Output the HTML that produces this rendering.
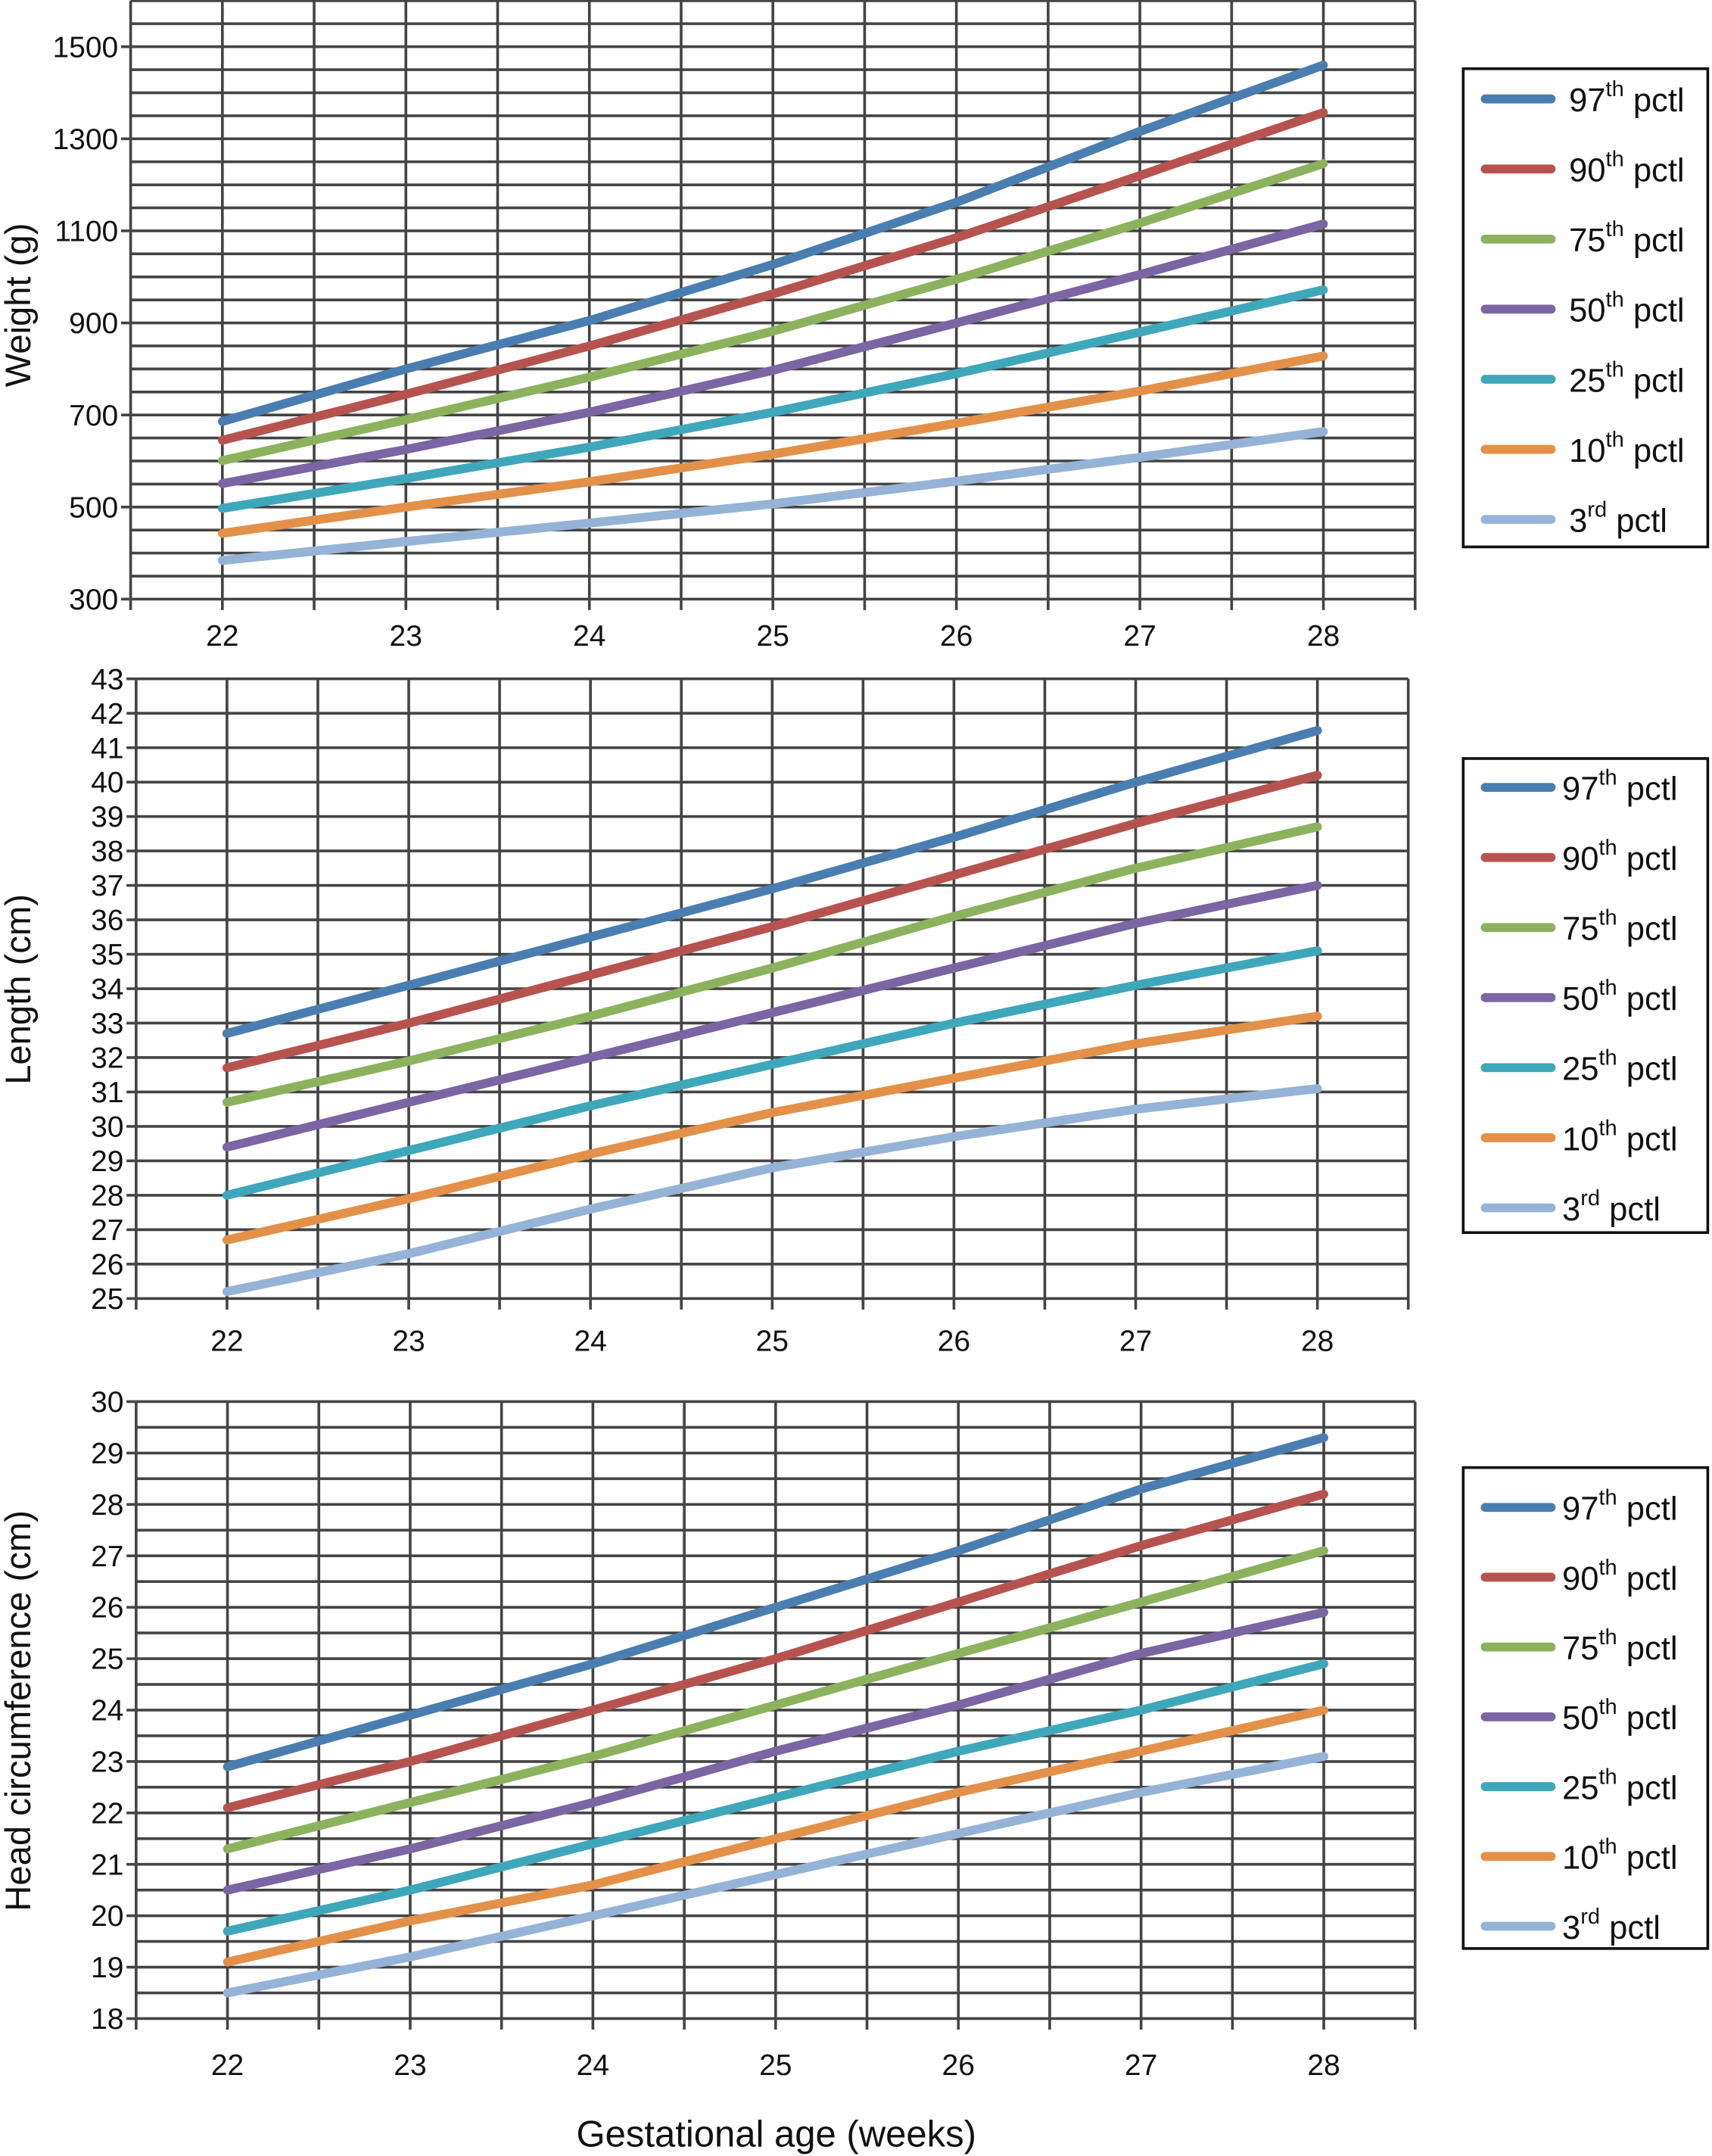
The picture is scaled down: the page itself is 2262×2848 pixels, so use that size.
<!DOCTYPE html>
<html><head><meta charset="utf-8"><style>
html,body{margin:0;padding:0;background:#fff}
svg{display:block}
text{font-family:"Liberation Sans",Arial,sans-serif;fill:#111}
</style></head>
<body>
<svg id="chart" width="2262" height="2848" viewBox="0 0 1246 1569" xmlns="http://www.w3.org/2000/svg"></svg>
<script>
const weeks = [22, 23, 24, 25, 26, 27, 28];
const seriesNames = ["97th", "90th", "75th", "50th", "25th", "10th", "3rd"];
const colors = ["#4a7eb1", "#b7534f", "#8db25e", "#7b65a2", "#3fa7ba", "#e39049", "#94b3d6"];

const weightP97 = [686, 800, 905, 1027, 1162, 1316, 1460];
const weightP90 = [645, 745, 850, 963, 1085, 1220, 1357];
const weightP75 = [601, 690, 782, 882, 995, 1117, 1246];
const weightP50 = [551, 625, 706, 797, 900, 1005, 1115];
const weightP25 = [497, 562, 630, 706, 790, 880, 972];
const weightP10 = [443, 500, 555, 615, 682, 752, 828];
const weightP3 = [384, 425, 465, 507, 556, 608, 664];

const lengthP97 = [32.7, 34.1, 35.5, 36.9, 38.4, 40.0, 41.5];
const lengthP90 = [31.7, 33.0, 34.4, 35.8, 37.3, 38.8, 40.2];
const lengthP75 = [30.7, 31.9, 33.2, 34.6, 36.1, 37.5, 38.7];
const lengthP50 = [29.4, 30.7, 32.0, 33.3, 34.6, 35.9, 37.0];
const lengthP25 = [28.0, 29.3, 30.6, 31.8, 33.0, 34.1, 35.1];
const lengthP10 = [26.7, 27.9, 29.2, 30.4, 31.4, 32.4, 33.2];
const lengthP3 = [25.2, 26.3, 27.6, 28.8, 29.7, 30.5, 31.1];

const headP97 = [22.9, 23.9, 24.9, 26.0, 27.1, 28.3, 29.3];
const headP90 = [22.1, 23.0, 24.0, 25.0, 26.1, 27.2, 28.2];
const headP75 = [21.3, 22.2, 23.1, 24.1, 25.1, 26.1, 27.1];
const headP50 = [20.5, 21.3, 22.2, 23.2, 24.1, 25.1, 25.9];
const headP25 = [19.7, 20.5, 21.4, 22.3, 23.2, 24.0, 24.9];
const headP10 = [19.1, 19.9, 20.6, 21.5, 22.4, 23.2, 24.0];
const headP3 = [18.5, 19.2, 20.0, 20.8, 21.6, 22.4, 23.1];

const weightTicks = [300, 500, 700, 900, 1100, 1300, 1500];
const lengthTicks = [25,26,27,28,29,30,31,32,33,34,35,36,37,38,39,40,41,42,43];
const headTicks = [18,19,20,21,22,23,24,25,26,27,28,29,30];

const NS = "http://www.w3.org/2000/svg";
const svg = document.getElementById("chart");
function mk(tag, attrs, parent) {
  const e = document.createElementNS(NS, tag);
  for (const k in attrs) e.setAttribute(k, attrs[k]);
  (parent || svg).appendChild(e);
  return e;
}

function panel(cfg) {
  const g = mk("g", {});
  
  
  const xs = v => cfg.left + (v - 21.5) / 7 * (cfg.right - cfg.left);
  const ys = v => cfg.bottom - (v - cfg.ymin) / (cfg.ymax - cfg.ymin) * (cfg.bottom - cfg.top);
  const grid = mk("g", {stroke: "#444", "stroke-width": 2}, g);
  
  
  for (let v = cfg.ymin; v <= cfg.ymax + 1e-9; v += cfg.gridStep) {
    mk("line", {x1: cfg.left, x2: cfg.right, y1: ys(v), y2: ys(v)}, grid);
  }
  for (let w = 21.5; w <= 28.51; w += 0.5) {
    mk("line", {x1: xs(w), x2: xs(w), y1: cfg.top, y2: cfg.bottom + 8}, grid);
  }
  const yax = mk("g", {}, g);
  
  
  cfg.ticks.forEach(t => {
    mk("line", {x1: cfg.left - 7, x2: cfg.left, y1: ys(t), y2: ys(t), stroke: "#444", "stroke-width": 2}, yax);
    const tx = mk("text", {x: cfg.left - 9, y: ys(t) + 7.5, "text-anchor": "end", "font-size": 21.5}, yax);
    tx.textContent = t;
  });
  const xax = mk("g", {}, g);
  
  
  weeks.forEach(w => {
    const tx = mk("text", {x: xs(w), y: cfg.xLabelY, "text-anchor": "middle", "font-size": 21.5}, xax);
    tx.textContent = w;
  });
  const yt = mk("text", {transform: `translate(${cfg.titleX},${cfg.titleY}) rotate(-90)`, "text-anchor": "middle", "font-size": 26}, g);
  
  
  yt.textContent = cfg.title;
  cfg.series.forEach((arr, i) => {
    const d = arr.map((v, j) => (j ? "L" : "M") + xs(weeks[j]).toFixed(1) + "," + ys(v).toFixed(1)).join(" ");
    const p = mk("path", {d: d, fill: "none", stroke: colors[i], "stroke-width": 6.5, "stroke-linecap": "round", "stroke-linejoin": "round"}, g);
    
    
  });
  const lg = mk("g", {}, g);
  
  
  mk("rect", {x: cfg.lgX, y: cfg.lgY, width: 178, height: cfg.lgH, fill: "#fff", stroke: "#111", "stroke-width": 2}, lg);
  seriesNames.forEach((n, i) => {
    const ey = cfg.lgFirst + i * cfg.lgStep;
    const e = mk("g", {}, lg);
    
    
    mk("line", {x1: cfg.lgX + 16, x2: cfg.lgX + 64, y1: ey, y2: ey, stroke: colors[i], "stroke-width": 6.5, "stroke-linecap": "round"}, e);
    const t = mk("text", {x: cfg.lgX + cfg.lgTextOff, y: ey + 9, "font-size": 24}, e);
    const num = n.replace(/\D/g, ""), suf = n.replace(/\d/g, "");
    t.appendChild(document.createTextNode(num));
    const s = mk("tspan", {dy: -11, "font-size": 16}, t);
    s.textContent = suf;
    const r = mk("tspan", {dy: 11}, t);
    r.textContent = " pctl";
  });
}

panel({name: "weight", left: 95, right: 1030, top: 0.5, bottom: 436, ymin: 300, ymax: 1600, gridStep: 50,
  ticks: weightTicks, xLabelY: 470, title: "Weight (g)", titleX: 22, titleY: 222,
  series: [weightP97, weightP90, weightP75, weightP50, weightP25, weightP10, weightP3],
  lgX: 1065, lgY: 50, lgH: 348, lgFirst: 72, lgStep: 51, lgTextOff: 77});
panel({name: "length", left: 99, right: 1025, top: 494, bottom: 945, ymin: 25, ymax: 43, gridStep: 1,
  ticks: lengthTicks, xLabelY: 983, title: "Length (cm)", titleX: 22, titleY: 720,
  series: [lengthP97, lengthP90, lengthP75, lengthP50, lengthP25, lengthP10, lengthP3],
  lgX: 1065, lgY: 552, lgH: 345, lgFirst: 573, lgStep: 51, lgTextOff: 72});
panel({name: "head", left: 99, right: 1030, top: 1020, bottom: 1469, ymin: 18, ymax: 30, gridStep: 0.5,
  ticks: headTicks, xLabelY: 1510, title: "Head circumference (cm)", titleX: 22, titleY: 1245,
  series: [headP97, headP90, headP75, headP50, headP25, headP10, headP3],
  lgX: 1065, lgY: 1068, lgH: 350, lgFirst: 1097, lgStep: 50.8, lgTextOff: 72});

const xt = mk("text", {x: 565, y: 1562, "text-anchor": "middle", "font-size": 27});


xt.textContent = "Gestational age (weeks)";
</script>
</body></html>
